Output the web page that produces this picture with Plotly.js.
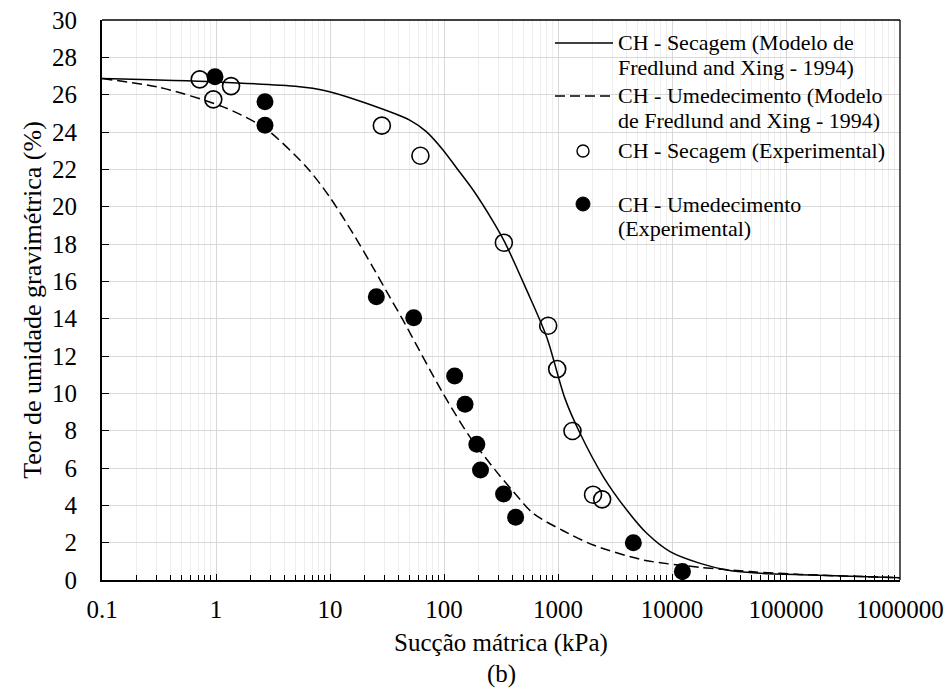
<!DOCTYPE html>
<html><head><meta charset="utf-8">
<script src="https://cdn.plot.ly/plotly-3.0.1.min.js"></script>
<style>body{margin:0;background:#fff}</style>
</head><body><div id="chart" style="width:950px;height:691px"></div>
<script>
const xTickVals = [0.1, 1, 10, 100, 1000, 10000, 100000, 1000000];
const xTickText = ["0.1", "1", "10", "100", "1000", "10000", "100000", "1000000"];
const yTickVals = [0, 2, 4, 6, 8, 10, 12, 14, 16, 18, 20, 22, 24, 26, 28, 30];

// Fredlund & Xing model curves
const dryModelX = [0.1, 1, 5.4, 7.06, 9.9, 20.8, 50, 70, 98, 128, 180, 270, 341, 530, 794, 1150, 1560, 2500, 4010, 6010, 9620, 17660, 30300, 59400, 163000, 1000000];
const dryModelY = [26.86, 26.68, 26.43, 26.34, 26.16, 25.54, 24.64, 24.02, 23.04, 22.1, 20.89, 19.2, 18.1, 15.54, 13.03, 9.73, 7.86, 5.53, 3.75, 2.5, 1.52, 0.89, 0.54, 0.36, 0.27, 0.12];
const wetModelX = [0.1, 0.318, 1.14, 2.69, 6.18, 9.9, 15.9, 23.8, 33.3, 43.6, 98, 168, 298, 404, 605, 1100, 2040, 5610, 17660, 48500, 133000, 1000000];
const wetModelY = [26.86, 26.39, 25.36, 24.2, 22.14, 20.53, 18.57, 16.75, 15.18, 13.93, 10.0, 7.68, 5.7, 4.75, 3.57, 2.65, 1.875, 1.07, 0.68, 0.45, 0.3, 0.12];

// Experimental points
const dryExpX = [0.72, 1.355, 0.947, 28.5, 62.1, 335, 820, 984, 1340, 2030, 2440];
const dryExpY = [26.82, 26.46, 25.75, 24.34, 22.73, 18.07, 13.62, 11.3, 7.98, 4.57, 4.32];
const wetExpX = [0.98, 2.69, 2.69, 25.5, 54.2, 124, 153, 194, 209, 333, 425, 4580, 12340];
const wetExpY = [26.96, 25.62, 24.36, 15.18, 14.05, 10.93, 9.41, 7.27, 5.89, 4.61, 3.36, 2.0, 0.45];

// Legend entries, one array per entry (lines of text)
const legendLines = [
  ["CH - Secagem (Modelo de", "Fredlund and Xing - 1994)"],
  ["CH - Umedecimento (Modelo", "de Fredlund and Xing - 1994)"],
  ["CH - Secagem (Experimental)"],
  ["CH - Umedecimento", "(Experimental)"]
];

const FONT = "Liberation Serif, Times New Roman, serif";
const M = {l: 102, r: 50, t: 20, b: 111};
const W = 950, H = 691;
const PW = W - M.l - M.r, PH = H - M.t - M.b;
const px = x => (x - M.l) / PW;       // pixel -> paper x
const py = y => (H - M.b - y) / PH;   // pixel -> paper y

const DASH = "10px,5px";

const traces = [
  {x: dryModelX, y: dryModelY, name: legendLines[0].join(" "), mode: "lines", type: "scatter",
   line: {color: "black", width: 1.5, shape: "spline", smoothing: 0.8}},
  {x: wetModelX, y: wetModelY, name: legendLines[1].join(" "), mode: "lines", type: "scatter",
   line: {color: "black", width: 1.5, dash: DASH, shape: "spline", smoothing: 0.8}},
  {x: dryExpX, y: dryExpY, name: legendLines[2].join(" "), mode: "markers", type: "scatter",
   marker: {symbol: "circle-open", size: 17, color: "black", line: {width: 1.6}}},
  {x: wetExpX, y: wetExpY, name: legendLines[3].join(" "), mode: "markers", type: "scatter",
   marker: {symbol: "circle", size: 17, color: "black"}}
];

// Legend layout (drawn inside the plot, transparent background)
const legTextX = 617, legSymX0 = 555, legSymX1 = 613, legSymCX = 583;
const entryTop = [43, 96, 151, 204];
const lineStep = 24.5;

const annotations = [];
legendLines.forEach((lines, i) => {
  lines.forEach((t, j) => {
    annotations.push({text: t, xref: "paper", yref: "paper", x: px(legTextX), y: py(entryTop[i] + j * lineStep),
      xanchor: "left", yanchor: "middle", showarrow: false, borderpad: 0,
      font: {family: FONT, size: 22, color: "black"}});
  });
});
annotations.push({text: "(b)", xref: "paper", yref: "paper", x: 0.5, y: py(674), xanchor: "center", yanchor: "middle",
  showarrow: false, borderpad: 0, font: {family: FONT, size: 25, color: "black"}});

const shapes = [
  {type: "line", xref: "paper", yref: "paper", x0: 0, x1: 1, y0: 1, y1: 1, line: {color: "black", width: 1.3}},
  {type: "line", xref: "paper", yref: "paper", x0: 1, x1: 1, y0: 0, y1: 1, line: {color: "black", width: 1.3}},
  // legend keys
  {type: "line", xref: "paper", yref: "paper", x0: px(legSymX0), x1: px(legSymX1), y0: py(entryTop[0]), y1: py(entryTop[0]),
   line: {color: "black", width: 1.5}},
  {type: "line", xref: "paper", yref: "paper", x0: px(legSymX0), x1: px(legSymX1), y0: py(entryTop[1]), y1: py(entryTop[1]),
   line: {color: "black", width: 1.5, dash: DASH}},
  {type: "circle", xref: "paper", yref: "paper", x0: px(legSymCX - 6), x1: px(legSymCX + 6), y0: py(entryTop[2] + 6), y1: py(entryTop[2] - 6),
   line: {color: "black", width: 1.4}, fillcolor: "rgba(0,0,0,0)"},
  {type: "circle", xref: "paper", yref: "paper", x0: px(legSymCX - 7), x1: px(legSymCX + 7), y0: py(entryTop[3] + 7), y1: py(entryTop[3] - 7),
   line: {color: "black", width: 1}, fillcolor: "black"}
];

const layout = {
  width: W, height: H,
  margin: M,
  paper_bgcolor: "white", plot_bgcolor: "white",
  font: {family: FONT, color: "black", size: 22},
  showlegend: false,
  xaxis: {
    type: "log", range: [-1, 6],
    tickmode: "array", tickvals: xTickVals, ticktext: xTickText,
    ticks: "inside", ticklen: 6, tickwidth: 1, tickcolor: "black",
    showline: true, linecolor: "black", linewidth: 2,
    showgrid: true, gridcolor: "#d9d9d9", gridwidth: 1,
    zeroline: false,
    ticklabelstandoff: 6,
    tickfont: {family: FONT, size: 25, color: "black"},
    minor: {dtick: "D1", ticks: "inside", ticklen: 5, tickcolor: "black", showgrid: true, gridcolor: "#eeeeee", gridwidth: 1},
    title: {text: "Sucção mátrica (kPa)", font: {family: FONT, size: 25, color: "black"}, standoff: 11}
  },
  yaxis: {
    range: [0, 30], tickmode: "array", tickvals: yTickVals,
    ticks: "inside", ticklen: 7, tickwidth: 1, tickcolor: "black",
    showline: true, linecolor: "black", linewidth: 2,
    showgrid: true, gridcolor: "#d9d9d9", gridwidth: 1,
    zeroline: false,
    ticklabelstandoff: 18,
    tickfont: {family: FONT, size: 25, color: "black"},
    title: {text: "Teor de umidade gravimétrica (%)", font: {family: FONT, size: 26, color: "black"}, standoff: 3}
  },
  shapes: shapes,
  annotations: annotations
};

Plotly.newPlot("chart", traces, layout, {displayModeBar: false, staticPlot: true});
</script>
</body></html>
